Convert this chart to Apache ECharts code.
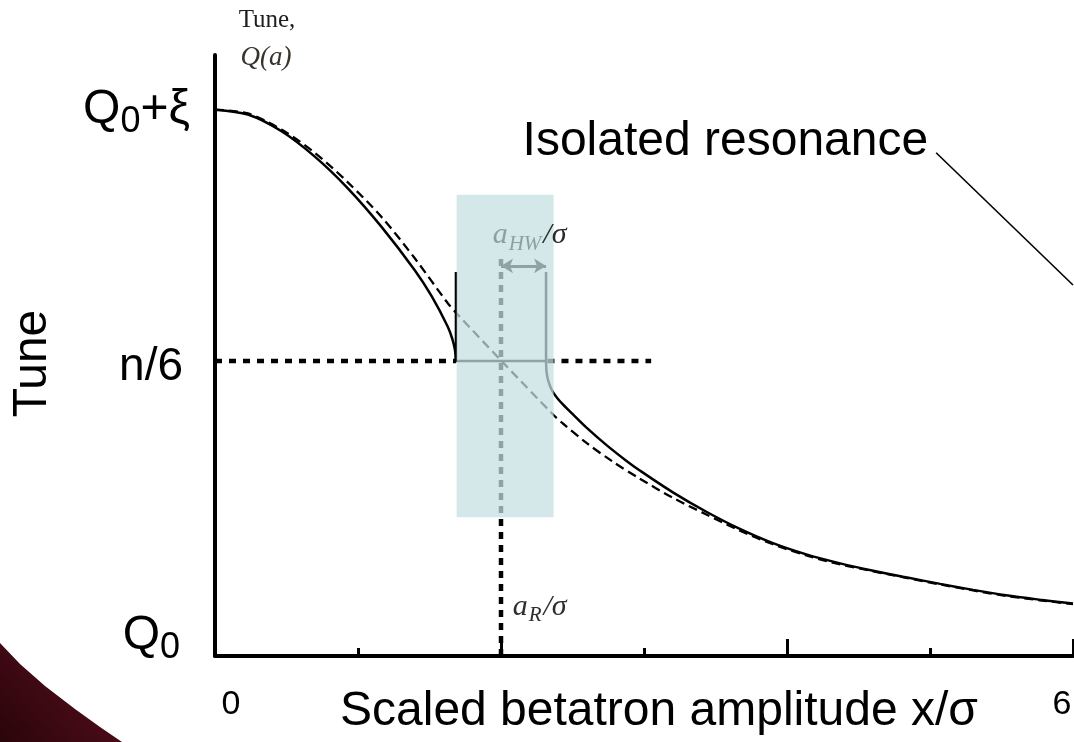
<!DOCTYPE html>
<html>
<head>
<meta charset="utf-8">
<script src="https://cdn.jsdelivr.net/npm/echarts@6/dist/echarts.min.js"></script>
<style>
  html, body { margin: 0; padding: 0; background: #ffffff; }
  #chart { width: 1074px; height: 742px; }
</style>
</head>
<body>
<div id="chart"></div>
<script>
// Amplitude axis ticks (x / sigma)
const ampTickValues = [0, 6];
const ampTickNames = ['0', '6'];

// Tune axis: Q0 -> 0, Q0 + xi -> 1
const tuneTickValues = [0, 0.54, 1];
const tuneTickNames = ['Q0', 'n/6', 'Q0+ξ'];

// Unperturbed amplitude detuning Q(a)
const detuneX = [0, 0.23, 0.468, 0.698, 0.929, 1.166, 1.397, 1.627, 1.69, 2.0, 2.368, 2.431, 2.598, 2.78, 2.968, 3.199, 3.436, 3.667, 3.897, 4.135, 4.365, 4.603, 4.833, 5.071, 5.301, 5.532, 5.769, 6.0];
const detuneQ = [1.0, 0.993, 0.963, 0.921, 0.867, 0.803, 0.728, 0.646, 0.627, 0.541, 0.441, 0.426, 0.39, 0.356, 0.325, 0.29, 0.259, 0.23, 0.205, 0.184, 0.168, 0.155, 0.143, 0.131, 0.12, 0.11, 0.102, 0.095];

// Tune with the isolated resonance: branch below the island
const innerX = [0, 0.23, 0.468, 0.698, 0.929, 1.166, 1.397, 1.516, 1.627, 1.66, 1.678, 1.685];
const innerQ = [1.0, 0.991, 0.96, 0.914, 0.856, 0.785, 0.706, 0.658, 0.603, 0.58, 0.56, 0.54];

// Tune with the isolated resonance: branch above the island
const outerX = [2.315, 2.318, 2.328, 2.345, 2.368, 2.4, 2.431, 2.5, 2.598, 2.738, 2.878, 2.968, 3.199, 3.436, 3.667, 3.897, 4.135, 4.365, 4.603, 4.833, 5.071, 5.301, 5.532, 5.769, 6.0];
const outerQ = [0.54, 0.522, 0.506, 0.493, 0.481, 0.47, 0.461, 0.443, 0.418, 0.386, 0.357, 0.34, 0.3, 0.264, 0.233, 0.207, 0.186, 0.17, 0.156, 0.144, 0.132, 0.121, 0.111, 0.103, 0.096];

// Resonance parameters
const resonanceTune = 0.54;   // n/6
const resonanceEnd = 3.05;    // extent of the n/6 guide line
const aR = 2.0;               // resonant amplitude
const aHW = 0.315;            // island half width
const islandTop = 0.703;      // height of the island edge markers
const arrowTune = 0.714;      // height of the half-width arrow
const aRLineTop = 0.728;      // top of the a_R guide line
const bandX = [1.69, 2.368];  // shaded band around the island
const bandQ = [0.254, 0.844];

const pairs = (xs, ys) => xs.map((x, i) => [x, ys[i]]);

const SANS = '"Liberation Sans", Arial, sans-serif';
const SERIF = '"Liberation Serif", "DejaVu Serif", serif';

const chart = echarts.init(document.getElementById('chart'), null, { renderer: 'canvas' });

function tuneLabel(v) {
  const name = tuneTickNames[tuneTickValues.indexOf(v)];
  if (name === 'n/6') return '{gapT| }\n{n|' + name + '}';
  const rest = name.replace(/^Q0/, '');
  if (rest) return '{q|Q}{s|0}{q|' + rest + '}';
  return '{q|Q}{sb|0}\n{gapB| }';
}

function ampLabel(v) {
  const name = ampTickNames[ampTickValues.indexOf(v)];
  return '{' + (v === 0 ? 'lo' : 'hi') + '|' + name + '}';
}

// italic math-style label pieces: main symbol, subscript, trailing "/σ"
function mathRich(mainColor, tailColor) {
  return {
    a: { fontFamily: SERIF, fontStyle: 'italic', fontSize: 30, color: mainColor },
    s: { fontFamily: SERIF, fontStyle: 'italic', fontSize: 21, color: mainColor, padding: [18, 0, 0, 1] },
    r: { fontFamily: SERIF, fontStyle: 'italic', fontSize: 30, color: tailColor, padding: [0, 0, 0, 2] }
  };
}

const option = {
  animation: false,
  backgroundColor: '#ffffff',
  grid: { left: 215, top: 55, width: 858, height: 601, outerBoundsMode: 'none' },
  xAxis: [
    {
      type: 'value', min: 0, max: 6, interval: 1, position: 'bottom',
      name: 'Scaled betatron amplitude x/σ',
      nameLocation: 'middle', nameGap: 32, nameMoveOverlap: false,
      nameTextStyle: { fontSize: 48, color: '#000', fontFamily: SANS, padding: [0, 0, 0, 30] },
      axisLine: { lineStyle: { color: '#000', width: 4 } },
      axisTick: { inside: true, length: 8, lineStyle: { color: '#000', width: 3 } },
      splitLine: { show: false },
      axisLabel: {
        customValues: ampTickValues, margin: 32, formatter: ampLabel,
        rich: {
          lo: { fontSize: 34, fontFamily: SANS, color: '#000', padding: [0, 0, 0, 32] },
          hi: { fontSize: 34, fontFamily: SANS, color: '#000', padding: [0, 22, 0, 0] }
        }
      }
    },
    {
      type: 'value', min: 0, max: 6, interval: 2, position: 'bottom', offset: 0,
      axisLine: { show: false },
      axisTick: { inside: true, length: 17, lineStyle: { color: '#000', width: 3 } },
      axisLabel: { show: false },
      splitLine: { show: false }
    }
  ],
  yAxis: {
    type: 'value', min: 0, max: 1.1,
    name: 'Tune', nameLocation: 'middle', nameRotate: 90, nameGap: 158, nameMoveOverlap: false,
    nameTextStyle: { fontSize: 48, color: '#000', fontFamily: SANS, padding: [0, 16, 0, 0] },
    axisLine: { show: true, lineStyle: { color: '#000', width: 4 } },
    axisTick: { show: false },
    splitLine: { show: false },
    axisLabel: {
      customValues: tuneTickValues, margin: 25, formatter: tuneLabel,
      rich: {
        q: { fontSize: 48, fontFamily: SANS, color: '#000' },
        s: { fontSize: 36, fontFamily: SANS, color: '#000', padding: [24, 0, 0, 0] },
        sb: { fontSize: 36, fontFamily: SANS, color: '#000', padding: [24, 10, 0, 0] },
        n: { fontSize: 46, lineHeight: 46, fontFamily: SANS, color: '#000', padding: [0, 7, 0, 0] },
        gapT: { fontSize: 10, lineHeight: 12 },
        gapB: { fontSize: 10, lineHeight: 40 }
      }
    }
  },
  series: [
    {
      name: 'Q(a)', type: 'line', data: pairs(detuneX, detuneQ),
      showSymbol: false, smooth: 0.3, z: 2,
      lineStyle: { color: '#000', width: 2.3, type: [9, 5] }
    },
    {
      name: 'inner branch', type: 'line', data: pairs(innerX, innerQ),
      showSymbol: false, smooth: 0.3, z: 3,
      lineStyle: { color: '#000', width: 2.5 }
    },
    {
      name: 'outer branch', type: 'line', data: pairs(outerX, outerQ),
      showSymbol: false, smooth: 0.3, z: 3,
      lineStyle: { color: '#000', width: 2.5 }
    },
    {
      name: 'n/6', type: 'line', showSymbol: false, z: 2,
      data: [[0, resonanceTune], [aR - aHW, resonanceTune], [aR, '-'], [aR + aHW + 0.01, resonanceTune], [resonanceEnd, resonanceTune]],
      lineStyle: { color: '#000', width: 4.5, type: [7, 7] }
    },
    {
      name: 'a_R', type: 'line', showSymbol: false, z: 2,
      data: [[aR, 0], [aR, aRLineTop]],
      lineStyle: { color: '#000', width: 4.5, type: [7, 6] }
    },
    {
      name: 'island', type: 'line', showSymbol: false, z: 3,
      data: [[aR - aHW, islandTop], [aR - aHW, resonanceTune], [aR + aHW, resonanceTune], [aR + aHW, islandTop]],
      lineStyle: { color: '#000', width: 2.5 },
      markLine: {
        silent: true, symbol: ['arrow', 'arrow'], symbolSize: [11, 12],
        label: { show: false },
        lineStyle: { color: '#000', width: 3, type: 'solid' },
        data: [[{ coord: [aR, arrowTune] }, { coord: [aR + aHW, arrowTune] }]]
      }
    },
    {
      name: 'band', type: 'custom', z: 5, silent: true,
      data: [[bandX[0], bandX[1], bandQ[0], bandQ[1]]],
      renderItem: (params, api) => {
        const p0 = api.coord([api.value(0), api.value(3)]);
        const p1 = api.coord([api.value(1), api.value(2)]);
        return {
          type: 'rect',
          shape: { x: p0[0], y: p0[1], width: p1[0] - p0[0], height: p1[1] - p0[1] },
          style: { fill: 'rgba(196,223,226,0.73)' }
        };
      }
    },
    {
      name: 'annotations', type: 'scatter', symbolSize: 0, z: 6, silent: true,
      itemStyle: { opacity: 1 },
      label: { show: true, position: 'inside', opacity: 1 },
      data: [
        {
          value: [2.2, 0.77],
          label: { formatter: '{a|a}{s|HW}{r|/σ}', rich: mathRich('#8d9fa2', '#2a2a2a') }
        },
        {
          value: [2.27, 0.09],
          label: { formatter: '{a|a}{s|R}{r|/σ}', rich: mathRich('#2e2e2e', '#2e2e2e') }
        },
        {
          value: [3.569, 0.941],
          label: { formatter: 'Isolated resonance', fontSize: 48, fontFamily: SANS, color: '#000' }
        }
      ],
      markLine: {
        silent: true, symbol: ['none', 'none'],
        label: { show: false },
        lineStyle: { color: '#000', width: 1.6, type: 'solid', opacity: 1 },
        data: [[{ coord: [5.043, 0.921] }, { coord: [6.0, 0.679] }]]
      }
    }
  ],
  graphic: [
    {
      type: 'polygon', silent: true, z: 0,
      shape: { points: [[0, 643], [20, 664], [45, 686], [75, 709], [100, 727], [122, 742], [0, 742]] },
      style: {
        fill: {
          type: 'linear', x: 0, y: 1, x2: 1, y2: 0,
          colorStops: [{ offset: 0, color: '#2a050a' }, { offset: 1, color: '#5c0f1f' }]
        }
      }
    },
    {
      type: 'text', x: 267, y: 20, silent: true,
      style: { text: 'Tune,', font: '25px ' + SERIF, fill: '#1e1e1e', align: 'center', verticalAlign: 'middle' }
    },
    {
      type: 'text', x: 266, y: 58, silent: true,
      style: { text: 'Q(a)', font: 'italic 27px ' + SERIF, fill: '#3a332c', align: 'center', verticalAlign: 'middle' }
    }
  ]
};

chart.setOption(option);
</script>
</body>
</html>
